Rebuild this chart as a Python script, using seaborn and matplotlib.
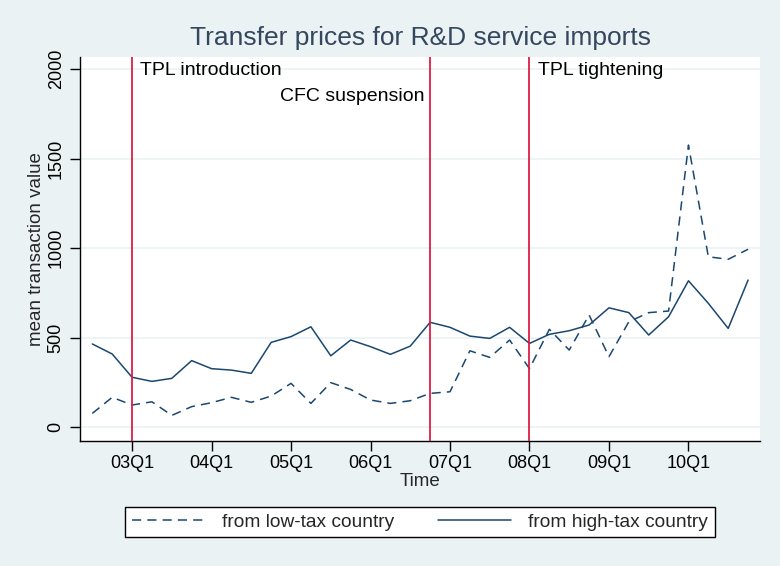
import numpy as np
import pandas as pd
import seaborn as sns
import matplotlib
matplotlib.use("Agg")
import matplotlib.pyplot as plt
from matplotlib.lines import Line2D

# Quartale 02Q3 bis 10Q4
quarters = ['02Q3', '02Q4',
            '03Q1', '03Q2', '03Q3', '03Q4',
            '04Q1', '04Q2', '04Q3', '04Q4',
            '05Q1', '05Q2', '05Q3', '05Q4',
            '06Q1', '06Q2', '06Q3', '06Q4',
            '07Q1', '07Q2', '07Q3', '07Q4',
            '08Q1', '08Q2', '08Q3', '08Q4',
            '09Q1', '09Q2', '09Q3', '09Q4',
            '10Q1', '10Q2', '10Q3', '10Q4']

low_tax = [76, 166, 123, 141, 65, 114, 136, 166, 138, 173,
           244, 132, 248, 210, 151, 132, 147, 188, 197, 426,
           389, 486, 326, 546, 430, 626, 393, 588, 639, 648,
           1575, 951, 937, 993]
high_tax = [464, 408, 278, 255, 272, 371, 326, 318, 300, 473,
            505, 560, 398, 486, 449, 406, 452, 585, 557, 508,
            495, 557, 467, 518, 538, 570, 666, 639, 514, 616,
            817, 691, 551, 821]

tick_labels = ['03Q1', '04Q1', '05Q1', '06Q1', '07Q1', '08Q1', '09Q1', '10Q1']
y_ticks = [0, 500, 1000, 1500, 2000]

event_quarters = ['03Q1', '06Q4', '08Q1']
event_labels = ['TPL introduction', 'CFC suspension', 'TPL tightening']
event_y = [1994, 1844, 1994]

navy = '#1A476F'
bg = '#EAF2F3'
red = '#DC1E46'

t = np.arange(len(quarters))
df = pd.DataFrame({
    't': np.concatenate([t, t]),
    'value': low_tax + high_tax,
    'series': ['from low-tax country'] * len(t) + ['from high-tax country'] * len(t),
})

sns.set_style('white')
plt.rcParams['font.family'] = ['Liberation Sans', 'DejaVu Sans']

fig = plt.figure(figsize=(7.8, 5.66), dpi=100, facecolor=bg)
ax = fig.add_axes([80 / 780, 1 - 441 / 566, 680 / 780, 384 / 566])
ax.set_facecolor('white')

# Linien
sns.lineplot(data=df, x='t', y='value', hue='series', style='series',
             palette=[navy, navy],
             dashes={'from low-tax country': (6, 4), 'from high-tax country': ''},
             linewidth=1.1, ax=ax, legend=False)

# Gitter
for yv in y_ticks:
    ax.axhline(yv, color=bg, lw=1.2, zorder=0)

# Ereignisse
for q, lab, yv in zip(event_quarters, event_labels, event_y):
    xq = quarters.index(q)
    ax.axvline(xq, color=red, lw=1.3, zorder=3)
    if lab == 'CFC suspension':
        ax.annotate(lab, (xq, yv), xytext=(-4, 0), textcoords='offset points',
                    ha='right', va='center', fontsize=14, color='black')
    else:
        ax.annotate(lab, (xq, yv), xytext=(6, 0), textcoords='offset points',
                    ha='left', va='center', fontsize=14, color='black')

ax.set_xlim(-0.62, 33.6)
ax.set_ylim(-78, 2067)
ax.set_xticks([quarters.index(q) for q in tick_labels])
ax.set_xticklabels(tick_labels, fontsize=13)
ax.set_yticks(y_ticks)
ax.set_yticklabels([str(v) for v in y_ticks], fontsize=13, rotation=90, va='center')
ax.tick_params(axis='both', direction='out', length=7, width=1, color='black',
               labelcolor='black', bottom=True, left=True)
ax.tick_params(axis='x', pad=3)
ax.tick_params(axis='y', pad=4)

for s in ['top', 'right']:
    ax.spines[s].set_visible(False)
for s in ['left', 'bottom']:
    ax.spines[s].set_color('black')
    ax.spines[s].set_linewidth(1.0)

ax.set_xlabel('Time', fontsize=13.5, labelpad=1)
ax.set_ylabel('mean transaction value', fontsize=13.5, labelpad=2)
ax.set_title('Transfer prices for R&D service imports', fontsize=19,
             color='#34475E', pad=9)

# Legende
handles = [Line2D([], [], color=navy, lw=1.1, linestyle=(0, (6, 4))),
           Line2D([], [], color=navy, lw=1.1)]
leg = fig.legend(handles, ['from low-tax country', 'from high-tax country'],
                 loc='center', bbox_to_anchor=(420 / 780, 1 - 522 / 566),
                 ncol=2, fontsize=13.8, frameon=True, fancybox=False,
                 handlelength=3.8, handletextpad=0.9, columnspacing=2.3,
                 borderpad=0.35, borderaxespad=0)
leg.get_frame().set_edgecolor('black')
leg.get_frame().set_linewidth(1.0)
leg.get_frame().set_facecolor('white')
leg.get_frame().set_alpha(1)

fig.savefig('out.png', dpi=100, facecolor=bg)
